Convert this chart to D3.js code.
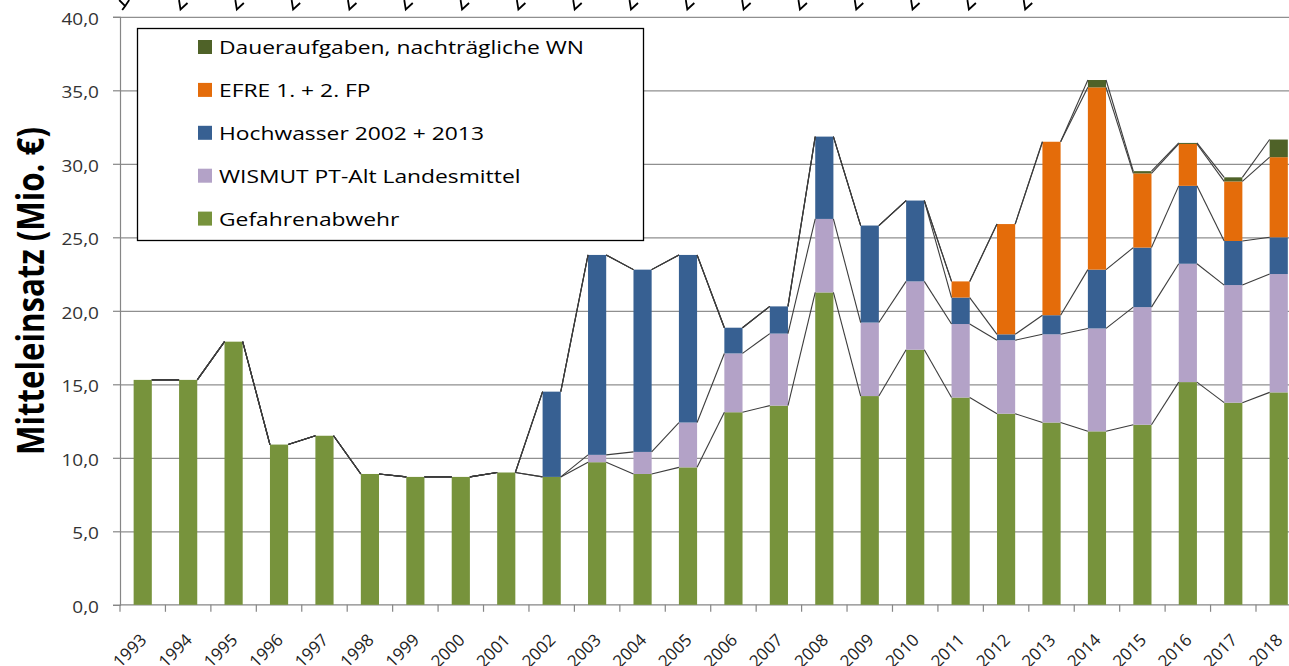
<!DOCTYPE html>
<html>
<head>
  <meta charset="utf-8">
  <title>Mitteleinsatz</title>
  <style>
  body {
    margin: 0;
    background: #fff;
  }
  svg text {
    font-family: "Open Sans", sans-serif;
  }
</style>
</head>
<body>
  <div id="viz"></div>

  <script src="https://d3js.org/d3.v7.min.js"></script>
  <script>
    // data (Mio. €)
    const years = ["1993","1994","1995","1996","1997","1998","1999","2000","2001","2002","2003","2004","2005",
                   "2006","2007","2008","2009","2010","2011","2012","2013","2014","2015","2016","2017","2018"];
    const gefahrenabwehr = [15.3,15.3,17.9,10.9,11.5,8.9,8.7,8.7,9.0,8.7,9.7,8.9,9.35,
                            13.1,13.55,21.25,14.2,17.35,14.1,13.0,12.4,11.8,12.25,15.15,13.75,14.45];
    const wismut = [0,0,0,0,0,0,0,0,0,0,0.5,1.5,3.05,
                    4.0,4.9,5.0,5.0,4.65,5.0,5.0,6.0,7.0,8.0,8.05,8.0,8.05];
    const hochwasser = [0,0,0,0,0,0,0,0,0,5.8,13.6,12.4,11.4,
                        1.75,1.85,5.6,6.6,5.5,1.8,0.4,1.3,4.0,4.05,5.3,3.0,2.5];
    const efre = [0,0,0,0,0,0,0,0,0,0,0,0,0,
                  0,0,0,0,0,1.1,7.5,11.8,12.4,5.05,2.85,4.05,5.45];
    const dauer = [0,0,0,0,0,0,0,0,0,0,0,0,0,
                   0,0,0,0,0,0,0,0,0.5,0.15,0.07,0.28,1.2];

    const seriesNames = ["Gefahrenabwehr", "WISMUT PT-Alt Landesmittel", "Hochwasser 2002 + 2013",
                         "EFRE 1. + 2. FP", "Daueraufgaben, nachträgliche WN"];
    const seriesColors = ["#77933c", "#b3a2c7", "#376092", "#e46c0a", "#4f6228"];
    const yTicks = [0, 5, 10, 15, 20, 25, 30, 35, 40];
    const yTitle = "Mitteleinsatz (Mio. €)";

    // svg
    let svgWidth = 1289;
    let svgHeight = 666;
    let svg = d3.select("#viz")
      .append("svg")
      .attr("width", svgWidth)
      .attr("height", svgHeight)
      .style("display", "block");

    // chart was stretched sideways, so text is widened by this factor
    let probe = svg.append("text")
      .attr("font-size", 18.6)
      .text(seriesNames[4]);
    let sx = 365 / probe.node().getComputedTextLength();
    probe.remove();

    // scales
    let x = d3.scaleBand()
      .domain(years)
      .range([120, 120 + 26 * 45.44])
      .paddingInner(0.6)
      .paddingOuter(0.3);
    let step = x.step();

    let y = d3.scaleLinear()
      .domain([0, 40])
      .range([604.8, 16.8]);

    // stacked rows
    let keys = ["g", "w", "h", "e", "d"];
    let rows = years.map((yr, i) => ({
      year: yr, g: gefahrenabwehr[i], w: wismut[i], h: hochwasser[i], e: efre[i], d: dauer[i]
    }));
    let stacked = d3.stack().keys(keys)(rows);

    // gridlines
    svg.append("g")
      .attr("transform", "translate(120,0)")
      .call(d3.axisRight(y).tickValues(yTicks.slice(1)).tickSize(x.range()[1] - 120).tickFormat(""))
      .call(g => g.select(".domain").remove())
      .call(g => g.selectAll("line").attr("stroke", "#8f8f8f").attr("stroke-width", 1.2));

    // y axis
    let gY = svg.append("g")
      .attr("transform", "translate(120,0)")
      .call(d3.axisLeft(y).tickValues(yTicks).tickSize(7).tickPadding(0)
        .tickFormat(d => d3.format(".1f")(d).replace(".", ",")));
    gY.select(".domain").attr("stroke", "#868686").attr("stroke-width", 1.2);
    gY.selectAll("line").attr("stroke", "#868686").attr("stroke-width", 1.2);
    gY.selectAll("text")
      .attr("x", null).attr("dy", null)
      .attr("font-size", 15.5)
      .attr("fill", "#333")
      .attr("text-anchor", "end")
      .attr("dominant-baseline", "central")
      .attr("transform", `translate(-21,1) scale(${sx},1)`);

    // x axis line + ticks at category edges
    let gX = svg.append("g");
    gX.append("line")
      .attr("x1", 120).attr("x2", x.range()[1])
      .attr("y1", y(0)).attr("y2", y(0))
      .attr("stroke", "#868686").attr("stroke-width", 1.2);
    gX.selectAll(".xtick")
      .data(years.concat(["end"]))
      .join("line")
      .attr("class", "xtick")
      .attr("x1", (d, i) => 120 + i * step)
      .attr("x2", (d, i) => 120 + i * step)
      .attr("y1", y(0)).attr("y2", y(0) + 7)
      .attr("stroke", "#868686").attr("stroke-width", 1.2);
    gX.selectAll(".xlabel")
      .data(years)
      .join("text")
      .attr("class", "xlabel")
      .attr("font-size", 17)
      .attr("fill", "#222")
      .attr("text-anchor", "end")
      .attr("transform", d => `translate(${x(d) + x.bandwidth() / 2 + 5},641) rotate(-45)`)
      .text(d => d);

    // bars
    let layers = svg.append("g")
      .selectAll("g")
      .data(stacked)
      .join("g")
      .attr("fill", (d, i) => seriesColors[i]);
    layers.selectAll("rect")
      .data(d => d)
      .join("rect")
      .attr("x", d => x(d.data.year))
      .attr("width", x.bandwidth())
      .attr("y", d => y(d[1]))
      .attr("height", d => y(d[0]) - y(d[1]));

    // series lines between neighbouring bars
    let seriesLines = svg.append("g")
      .attr("stroke", "#3c3c3c")
      .attr("stroke-width", 1.1)
      .attr("fill", "none");
    stacked.forEach(layer => {
      for (let i = 0; i < layer.length - 1; i++) {
        seriesLines.append("line")
          .attr("x1", x(years[i]) + x.bandwidth())
          .attr("y1", y(layer[i][1]))
          .attr("x2", x(years[i + 1]))
          .attr("y2", y(layer[i + 1][1]));
      }
    });

    // legend
    let legend = svg.append("g");
    legend.append("rect")
      .attr("x", 137.5).attr("y", 28.5)
      .attr("width", 506).attr("height", 212)
      .attr("fill", "#fff")
      .attr("stroke", "#000")
      .attr("stroke-width", 1.3);
    let legendOrder = [4, 3, 2, 1, 0];
    let legendItems = legend.selectAll(".item")
      .data(legendOrder)
      .join("g")
      .attr("class", "item")
      .attr("transform", (d, i) => `translate(198,${47 + i * 42.9})`);
    legendItems.append("rect")
      .attr("x", 0).attr("y", -7)
      .attr("width", 14).attr("height", 14)
      .attr("fill", d => seriesColors[d]);
    legendItems.append("text")
      .attr("transform", `translate(21,0) scale(${sx},1)`)
      .attr("font-size", 18.6)
      .attr("fill", "#000")
      .attr("dominant-baseline", "central")
      .text(d => seriesNames[d]);

    // y axis title
    let title = svg.append("text")
      .attr("font-weight", 700)
      .attr("font-size", 26)
      .attr("fill", "#000")
      .attr("text-anchor", "middle")
      .attr("dominant-baseline", "central")
      .attr("transform", `translate(29,291) scale(${sx},1) rotate(-90)`)
      .text(yTitle);
    let tl = title.node().getComputedTextLength();
    title.attr("font-size", 26 * 328 / tl);

    // clipped marks left over along the top edge
    let markX = d3.scaleLinear().domain([0, 16]).range([124.2, 1025.2]);
    svg.append("g")
      .attr("stroke", "#000")
      .attr("stroke-width", 1.8)
      .attr("fill", "none")
      .selectAll("path")
      .data(d3.range(17))
      .join("path")
      .attr("d", i => {
        let mx = markX(i);
        if (i === 0) return `M${mx - 5},0 L${mx + 1},6 L${mx - 2},10 M${mx + 5},0 L${mx + 1},6`;
        return `M${mx - 1.5},0 L${mx},9.5 L${mx + 7},3`;
      });
  </script>
</body>
</html>
